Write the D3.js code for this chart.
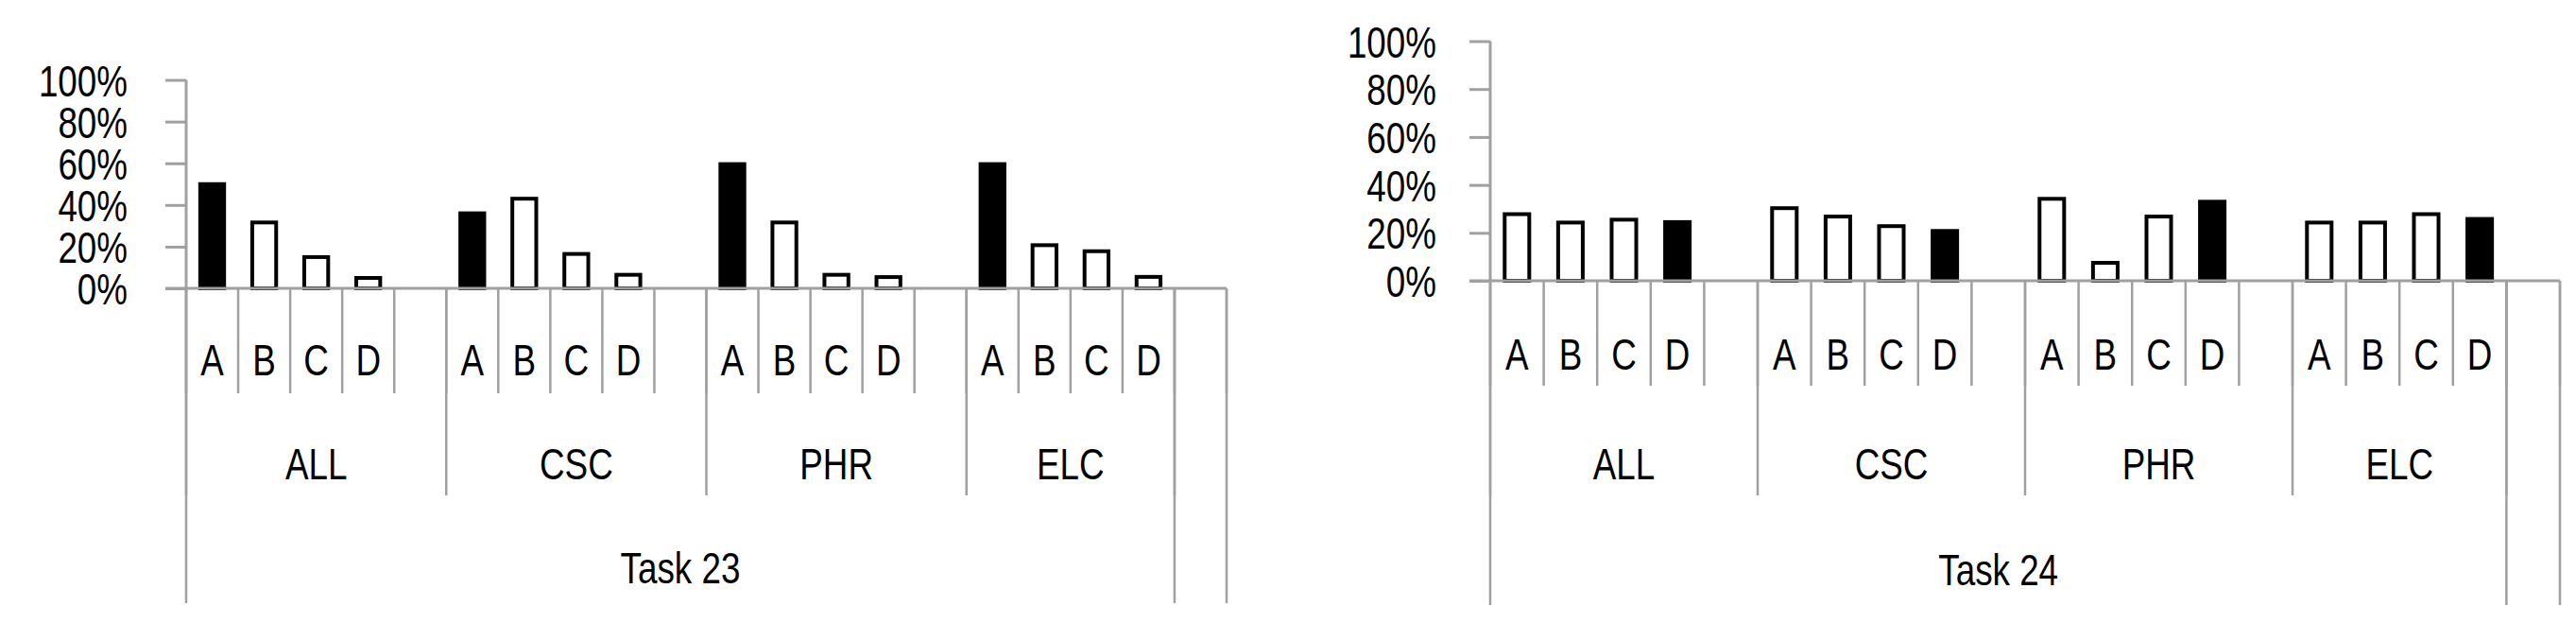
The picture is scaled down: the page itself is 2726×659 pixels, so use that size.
<!DOCTYPE html>
<html>
<head>
<meta charset="utf-8">
<script src="https://cdn.jsdelivr.net/npm/d3@7"></script>
<style>
  body { margin: 0; background: #fff; }
  svg { display: block; }
</style>
</head>
<body>
<svg id="chart" width="2726" height="659"></svg>
<script>
// Data
const groups = ["ALL", "CSC", "PHR", "ELC"];
const options = ["A", "B", "C", "D"];
const yTicks = [0, 0.2, 0.4, 0.6, 0.8, 1];

const task23Values = [
  [0.50, 0.316, 0.15, 0.05],
  [0.36, 0.43, 0.165, 0.065],
  [0.596, 0.316, 0.065, 0.054],
  [0.596, 0.207, 0.178, 0.055]
];
const task24Values = [
  [0.278, 0.243, 0.255, 0.245],
  [0.303, 0.268, 0.228, 0.208],
  [0.342, 0.075, 0.268, 0.33],
  [0.243, 0.243, 0.278, 0.258]
];
const task23Correct = "A";
const task24Correct = "D";

const svg = d3.select("#chart");
const font = "'Liberation Sans Narrow', 'Liberation Sans', sans-serif";
const grey = "#a0a0a0";
const sx = 0.8;      // horizontal squeeze so text looks like the narrow original font
const fs = 46;

// place a narrow text centred (or right aligned) at x,y
function narrow(sel, xf, y) {
  return sel.attr("transform", `scale(${sx},1)`)
    .attr("x", (d, i) => xf(d, i) / sx).attr("y", y)
    .attr("font-family", font).attr("font-size", fs).attr("fill", "#000");
}

function drawPanel(p) {
  const g = svg.append("g");
  // slots: each group has A..D plus a gap, the last group has no gap, then one trailing empty slot
  const slots = [];
  groups.forEach((grp, gi) => {
    options.forEach((o, oi) => slots.push({ grp, o, v: p.values[gi][oi] }));
    if (gi < groups.length - 1) slots.push({ grp, o: "", v: null });
  });
  slots.push({ grp: "", o: "", v: null });
  const idx = slots.map((s, i) => ({ ...s, i }));

  const x = d3.scaleBand().domain(d3.range(slots.length)).range([p.x0, p.x1]);
  const y = d3.scaleLinear().domain([0, 1]).range([p.y0, p.y100]);
  const bw = x.bandwidth() * 0.46;

  // y axis
  const yAxis = d3.axisLeft(y).tickValues(yTicks).tickFormat(d3.format(".0%")).tickSize(22);
  const ya = g.append("g").attr("transform", `translate(${p.x0},0)`).call(yAxis);
  ya.select(".domain").attr("stroke", grey).attr("stroke-width", 3).attr("d", `M0,${p.y0}V${p.y100}`);
  ya.selectAll(".tick line").attr("stroke", grey).attr("stroke-width", 3);
  narrow(ya.selectAll(".tick text"), () => -p.labelGap, 0).attr("dy", "0.36em");

  // bars
  g.selectAll("rect.bar").data(idx.filter(s => s.v != null))
    .join("rect").attr("class", "bar")
    .attr("x", d => x(d.i) + (x.bandwidth() - bw) / 2)
    .attr("y", d => y(d.v))
    .attr("width", bw)
    .attr("height", d => y(0) - y(d.v))
    .attr("fill", d => d.o === p.correct ? "#000" : "#fff")
    .attr("stroke", "#000").attr("stroke-width", 4);

  // baseline
  g.append("line").attr("x1", p.x0 - 22).attr("x2", p.x1).attr("y1", p.y0).attr("y2", p.y0)
    .attr("stroke", grey).attr("stroke-width", 3);

  // multi-level category lines
  const lineLevel = (xs, yEnd) => g.append("g").selectAll("line").data(xs).join("line")
    .attr("x1", d => d).attr("x2", d => d).attr("y1", p.y0).attr("y2", yEnd)
    .attr("stroke", grey).attr("stroke-width", 2.5);
  lineLevel(d3.range(slots.length + 1).map(i => i < slots.length ? x(i) : p.x1), p.l1);
  const groupEdges = [0, 5, 10, 15, 19].map(i => x(i));
  lineLevel(groupEdges, p.l2);
  lineLevel([p.x0, x(19), p.x1], p.l3);

  // labels
  narrow(g.append("g").selectAll("text").data(idx.filter(s => s.o)).join("text"),
    d => x(d.i) + x.bandwidth() / 2, p.t1).attr("text-anchor", "middle").text(d => d.o);
  narrow(g.append("g").selectAll("text").data(groups).join("text"),
    (d, i) => (groupEdges[i] + groupEdges[i + 1]) / 2, p.t2).attr("text-anchor", "middle").text(d => d);
  narrow(g.append("g").selectAll("text").data([p.title]).join("text"),
    () => (p.x0 + x(19)) / 2, p.t3).attr("text-anchor", "middle").text(d => d);
}

drawPanel({ values: task23Values, correct: task23Correct, title: "Task 23", labelGap: 62,
  x0: 197, x1: 1298, y0: 305, y100: 84.5, l1: 416, l2: 524, l3: 638, t1: 397, t2: 507, t3: 617 });
drawPanel({ values: task24Values, correct: task24Correct, title: "Task 24", labelGap: 57,
  x0: 1577, x1: 2709, y0: 297, y100: 43.5, l1: 408, l2: 524, l3: 640, t1: 391, t2: 507, t3: 619 });
</script>
</body>
</html>
